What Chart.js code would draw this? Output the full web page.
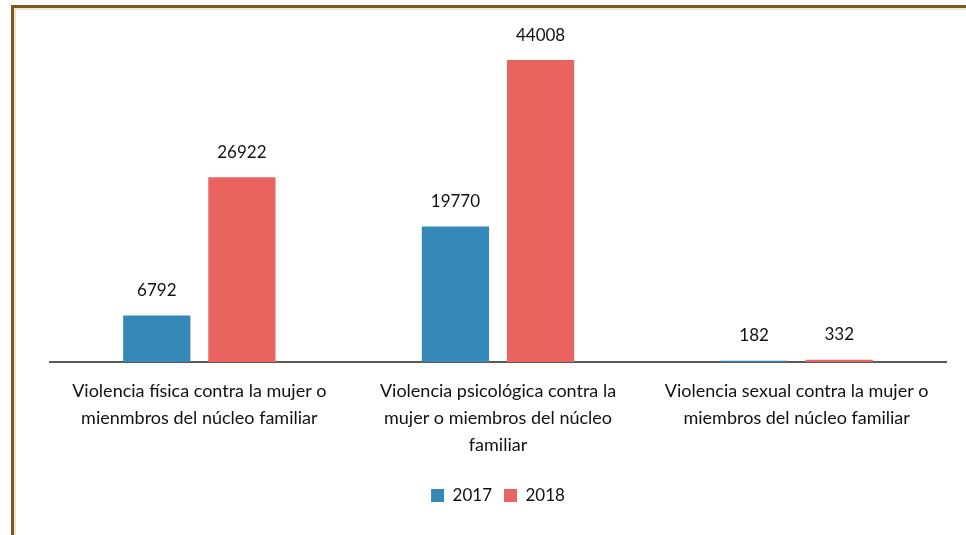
<!DOCTYPE html>
<html>
<head>
<meta charset="utf-8">
<script src="https://cdn.jsdelivr.net/npm/chart.js@4/dist/chart.umd.min.js"></script>
<style>
  html, body { margin: 0; padding: 0; background: #fff; }
  #wrap { position: relative; width: 966px; height: 535px; }
  #frame {
    position: absolute; left: 11px; top: 5px; right: -10px; bottom: -10px;
    border-top: 3px solid #7a5a1e; border-left: 3px solid #7a5a1e;
    box-shadow: inset 2px 2px 0 #ece4d4;
  }
  canvas { position: absolute; left: 0; top: 0; }
</style>
</head>
<body>
<div id="wrap">
  <div id="frame"></div>
  <canvas id="myChart" width="966" height="535"></canvas>
</div>
<script>
'use strict';

const categories = [
  ['Violencia física contra la mujer o', 'mienmbros del núcleo familiar'],
  ['Violencia psicológica contra la', 'mujer o miembros del núcleo', 'familiar'],
  ['Violencia sexual contra la mujer o', 'miembros del núcleo familiar']
];
const years = ['2017', '2018'];
const values2017 = [6792, 19770, 182];
const values2018 = [26922, 44008, 332];

const blue = '#3588b8';
const red = '#e9645f';
const fontName = 'Lato, "Liberation Sans", sans-serif';

// writes each bar's value above it
const barValues = {
  id: 'barValues',
  afterDatasetsDraw(chart) {
    const ctx = chart.ctx;
    ctx.save();
    ctx.font = '17px ' + fontName;
    ctx.fillStyle = '#111';
    ctx.textAlign = 'center';
    ctx.textBaseline = 'middle';
    chart.data.datasets.forEach(function (ds, i) {
      const meta = chart.getDatasetMeta(i);
      meta.data.forEach(function (bar, j) {
        ctx.fillText(String(ds.data[j]), bar.x, bar.y - 25);
      });
    });
    ctx.restore();
  }
};

const data = {
  labels: categories,
  datasets: [
    { label: years[0], data: values2017, backgroundColor: blue },
    { label: years[1], data: values2018, backgroundColor: red }
  ]
};

const config = {
  type: 'bar',
  data: data,
  plugins: [barValues],
  options: {
    responsive: false,
    animation: false,
    categoryPercentage: 0.57,
    barPercentage: 0.79,
    layout: { padding: { left: 50, right: 20, top: 19, bottom: 21 } },
    plugins: {
      legend: {
        position: 'bottom',
        labels: {
          boxWidth: 13, boxHeight: 13, padding: 12,
          color: '#111',
          font: { family: fontName, size: 17 }
        }
      },
      tooltip: { enabled: false }
    },
    scales: {
      y: { display: false, min: 0, max: 50000 },
      x: {
        grid: { display: false, drawTicks: false },
        border: { display: true, color: '#595959', width: 2 },
        ticks: {
          color: '#111',
          padding: 16,
          maxRotation: 0,
          font: { family: fontName, size: 18, lineHeight: 1.5 }
        }
      }
    }
  }
};

const canvasChart = document.getElementById('myChart');
const myChart = new Chart(canvasChart, config);
</script>
</body>
</html>
